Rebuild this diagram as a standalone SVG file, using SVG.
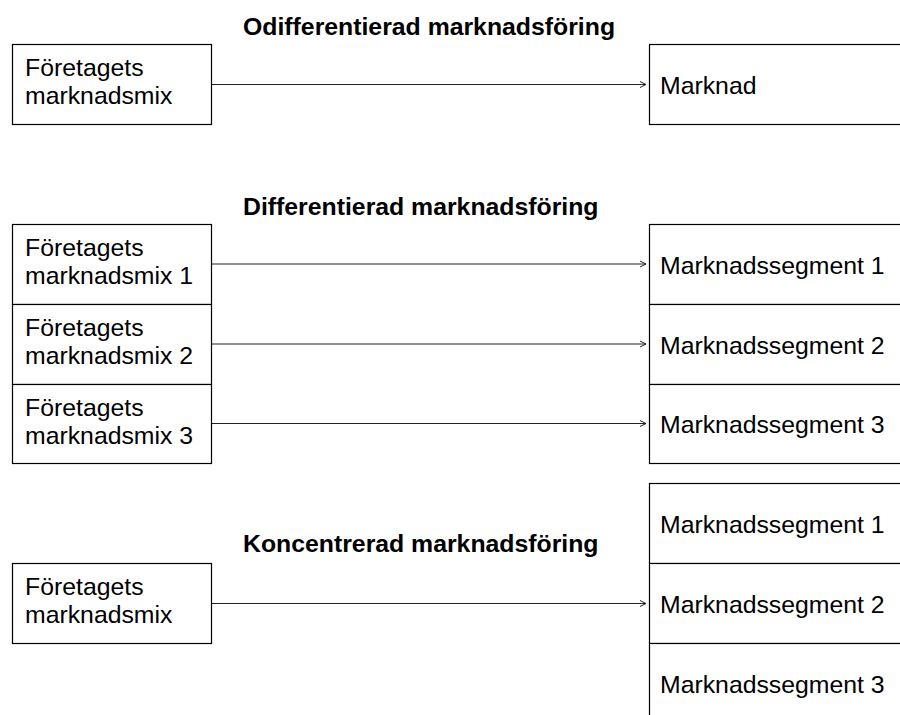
<svg xmlns="http://www.w3.org/2000/svg" width="900" height="715" viewBox="0 0 900 715">
<style>
.box{fill:#fff;stroke:#000;stroke-width:1.2}
.t{font-family:"Liberation Sans",Arial,sans-serif;font-size:24.8px;fill:#000}
.h{font-family:"Liberation Sans",Arial,sans-serif;font-size:24.8px;font-weight:bold;fill:#000}
.c{stroke:#222;stroke-width:1;fill:none;marker-end:url(#arr)}
</style>
<defs>
<marker id="arr" markerUnits="userSpaceOnUse" markerWidth="8" markerHeight="8" refX="6" refY="3" orient="auto" overflow="visible">
<path d="M0,0 L6,3 L0,6" fill="none" stroke="#222" stroke-width="1"/>
</marker>
</defs>
<rect width="900" height="715" fill="#fff"/>

<text class="h" x="243" y="34.5">Odifferentierad marknadsföring</text>
<text class="h" x="243" y="215">Differentierad marknadsföring</text>
<text class="h" x="243" y="552">Koncentrerad marknadsföring</text>

<g id="connectors">
<line class="c" x1="211.5" y1="84.5" x2="646" y2="84.5"/>
<line class="c" x1="211.5" y1="264" x2="646" y2="264"/>
<line class="c" x1="211.5" y1="344" x2="646" y2="344"/>
<line class="c" x1="211.5" y1="423.5" x2="646" y2="423.5"/>
<line class="c" x1="211.5" y1="603.5" x2="646" y2="603.5"/>
</g>

<g id="mix-undiff">
<rect class="box" x="12.5" y="44.5" width="199" height="80"/>
<text class="t" x="25" y="76">Företagets</text>
<text class="t" x="25" y="104">marknadsmix</text>
</g>
<g id="marknad">
<rect class="box" x="649.5" y="44.5" width="300" height="80"/>
<text class="t" x="660" y="94">Marknad</text>
</g>

<g id="mix1">
<rect class="box" x="12.5" y="224.5" width="199" height="80"/>
<text class="t" x="25" y="256">Företagets</text>
<text class="t" x="25" y="284">marknadsmix 1</text>
</g>
<g id="mix2">
<rect class="box" x="12.5" y="304.5" width="199" height="80"/>
<text class="t" x="25" y="336">Företagets</text>
<text class="t" x="25" y="364">marknadsmix 2</text>
</g>
<g id="mix3">
<rect class="box" x="12.5" y="384.5" width="199" height="79"/>
<text class="t" x="25" y="416">Företagets</text>
<text class="t" x="25" y="444">marknadsmix 3</text>
</g>

<g id="seg1">
<rect class="box" x="649.5" y="224.5" width="300" height="80"/>
<text class="t" x="660" y="273.5">Marknadssegment 1</text>
</g>
<g id="seg2">
<rect class="box" x="649.5" y="304.5" width="300" height="80"/>
<text class="t" x="660" y="353.5">Marknadssegment 2</text>
</g>
<g id="seg3">
<rect class="box" x="649.5" y="384.5" width="300" height="79"/>
<text class="t" x="660" y="433">Marknadssegment 3</text>
</g>

<g id="mix-conc">
<rect class="box" x="12.5" y="563.5" width="199" height="80"/>
<text class="t" x="25" y="595">Företagets</text>
<text class="t" x="25" y="623">marknadsmix</text>
</g>
<g id="cseg1">
<rect class="box" x="649.5" y="483.5" width="300" height="80"/>
<text class="t" x="660" y="533">Marknadssegment 1</text>
</g>
<g id="cseg2">
<rect class="box" x="649.5" y="563.5" width="300" height="80"/>
<text class="t" x="660" y="613">Marknadssegment 2</text>
</g>
<g id="cseg3">
<rect class="box" x="649.5" y="643.5" width="300" height="80"/>
<text class="t" x="660" y="693">Marknadssegment 3</text>
</g>
</svg>
